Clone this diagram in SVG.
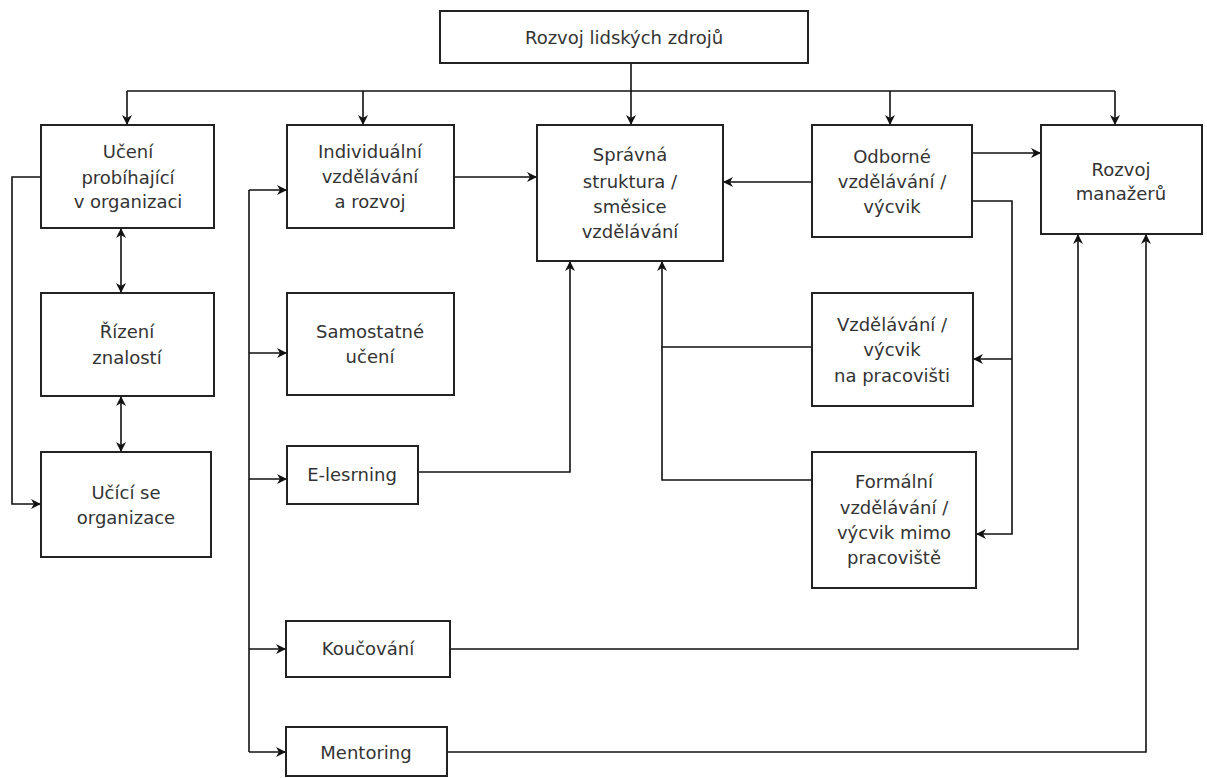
<svg xmlns="http://www.w3.org/2000/svg" width="1207" height="778" viewBox="0 0 1207 778">
<style>
.box{fill:#fff;stroke:#222;stroke-width:2}
.c{fill:none;stroke:#111;stroke-width:1.6}
text{font-family:"DejaVu Sans",Verdana,sans-serif;font-size:18px;fill:#333;text-anchor:middle}
</style>
<defs>
<marker id="a" viewBox="0 0 10 10" refX="10" refY="5" markerWidth="10" markerHeight="10" markerUnits="userSpaceOnUse" orient="auto-start-reverse">
<path d="M0,0 L10,5 L0,10 L3,5 z" fill="#111"/>
</marker>
</defs>
<rect width="1207" height="778" fill="#fff"/>
<g id="connectors">
<path class="c" d="M127,91 H1115"/>
<path class="c" d="M127,91 V125" marker-end="url(#a)"/>
<path class="c" d="M363,91 V125" marker-end="url(#a)"/>
<path class="c" d="M631,63 V125" marker-end="url(#a)"/>
<path class="c" d="M890,91 V125" marker-end="url(#a)"/>
<path class="c" d="M1115,91 V125" marker-end="url(#a)"/>
<path class="c" d="M454,177 H537" marker-end="url(#a)"/>
<path class="c" d="M812,182 H723" marker-end="url(#a)"/>
<path class="c" d="M972,153 H1041" marker-end="url(#a)"/>
<path class="c" d="M972,201 H1012 V534 H976" marker-end="url(#a)"/>
<path class="c" d="M1012,359 H973" marker-end="url(#a)"/>
<path class="c" d="M812,347 H662 V261" marker-end="url(#a)"/>
<path class="c" d="M812,480 H662 V347"/>
<path class="c" d="M418,472 H570 V261" marker-end="url(#a)"/>
<path class="c" d="M41,177 H12 V504 H41" marker-end="url(#a)"/>
<path class="c" d="M121,228 V293" marker-start="url(#a)" marker-end="url(#a)"/>
<path class="c" d="M121,396 V452" marker-start="url(#a)" marker-end="url(#a)"/>
<path class="c" d="M249,190 V752"/>
<path class="c" d="M249,190 H287" marker-end="url(#a)"/>
<path class="c" d="M249,353 H287" marker-end="url(#a)"/>
<path class="c" d="M249,479 H287" marker-end="url(#a)"/>
<path class="c" d="M249,649 H286" marker-end="url(#a)"/>
<path class="c" d="M249,752 H286" marker-end="url(#a)"/>
<path class="c" d="M450,649 H1078 V234" marker-end="url(#a)"/>
<path class="c" d="M447,752 H1146 V234" marker-end="url(#a)"/>
</g>
<g id="n-top"><rect class="box" x="440" y="11" width="368" height="52"/><text x="624" y="44">Rozvoj lidských zdrojů</text></g>
<g id="n-uceni"><rect class="box" x="41" y="125" width="173" height="103"/><text x="128" y="158">Učení</text><text x="128" y="184">probíhající</text><text x="128" y="208">v organizaci</text></g>
<g id="n-individualni"><rect class="box" x="287" y="125" width="167" height="103"/><text x="370" y="158">Individuální</text><text x="370" y="183">vzdělávání</text><text x="370" y="208">a rozvoj</text></g>
<g id="n-spravna"><rect class="box" x="537" y="125" width="186" height="136"/><text x="630" y="161">Správná</text><text x="630" y="188">struktura /</text><text x="630" y="213">směsice</text><text x="630" y="238">vzdělávání</text></g>
<g id="n-odborne"><rect class="box" x="812" y="125" width="160" height="112"/><text x="892" y="163">Odborné</text><text x="892" y="188">vzdělávání /</text><text x="892" y="213">výcvik</text></g>
<g id="n-manazeru"><rect class="box" x="1041" y="125" width="161" height="109"/><text x="1121" y="176">Rozvoj</text><text x="1121" y="200">manažerů</text></g>
<g id="n-rizeni"><rect class="box" x="41" y="293" width="173" height="103"/><text x="127" y="338">Řízení</text><text x="127" y="364">znalostí</text></g>
<g id="n-ucici"><rect class="box" x="41" y="452" width="170" height="105"/><text x="126" y="499">Učící se</text><text x="126" y="524">organizace</text></g>
<g id="n-samostatne"><rect class="box" x="287" y="293" width="167" height="102"/><text x="370" y="338">Samostatné</text><text x="370" y="363">učení</text></g>
<g id="n-elearning"><rect class="box" x="287" y="446" width="131" height="58"/><text x="352" y="481">E-lesrning</text></g>
<g id="n-vzdelavani"><rect class="box" x="812" y="293" width="161" height="113"/><text x="892" y="331">Vzdělávání /</text><text x="892" y="356">výcvik</text><text x="892" y="382">na pracovišti</text></g>
<g id="n-formalni"><rect class="box" x="812" y="452" width="164" height="136"/><text x="894" y="488">Formální</text><text x="894" y="514">vzdělávání /</text><text x="894" y="539">výcvik mimo</text><text x="894" y="564">pracoviště</text></g>
<g id="n-koucovani"><rect class="box" x="286" y="621" width="164" height="56"/><text x="368" y="655">Koučování</text></g>
<g id="n-mentoring"><rect class="box" x="286" y="727" width="161" height="49"/><text x="366" y="759">Mentoring</text></g>
</svg>
